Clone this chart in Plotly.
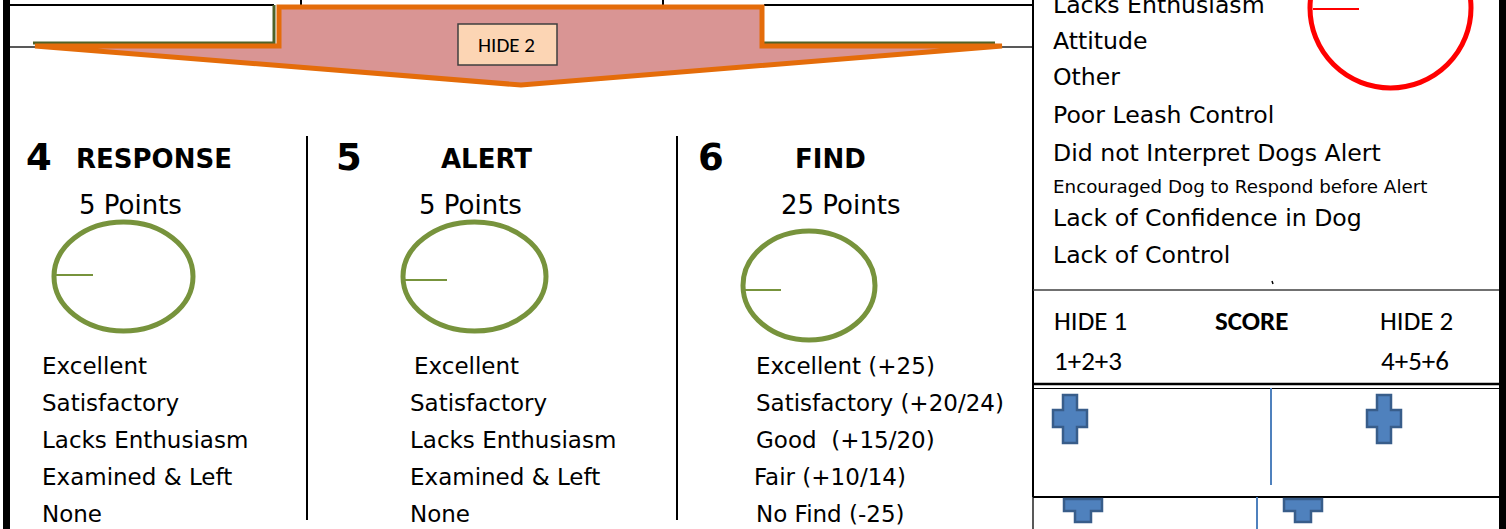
import plotly.graph_objects as go

# ---------------- data (text content of the form) ----------------
section_numbers = ["4", "5", "6"]
section_titles = ["RESPONSE", "ALERT", "FIND"]
section_points = ["5 Points", "5 Points", "25 Points"]
response_items = ["Excellent", "Satisfactory", "Lacks Enthusiasm", "Examined & Left", "None"]
alert_items = ["Excellent", "Satisfactory", "Lacks Enthusiasm", "Examined & Left", "None"]
find_items = ["Excellent (+25)", "Satisfactory (+20/24)", "Good  (+15/20)", "Fair (+10/14)", "No Find (-25)"]
fault_items = ["Lacks Enthusiasm", "Attitude", "Other", "Poor Leash Control",
               "Did not Interpret Dogs Alert", "Encouraged Dog to Respond before Alert",
               "Lack of Confidence in Dog", "Lack of Control"]
score_labels = ["HIDE 1", "SCORE", "HIDE 2"]
score_formulas = ["1+2+3", "4+5+6"]
banner_label = "HIDE 2"

# ---------------- styling ----------------
TAHOMA = "Tahoma, 'DejaVu Sans', Verdana, sans-serif"
CALIBRI = "Calibri, Carlito, 'Open Sans', sans-serif"
GREEN = "#77933c"
DKGREEN = "#4f6228"
ORANGE = "#e46c0a"
PINK = "#d99594"
BLUE = "#4f81bd"
DKBLUE = "#385d8a"

shapes = []
ann = []

def line(x0, y0, x1, y1, color="black", width=2):
    shapes.append(dict(type="line", x0=x0, y0=y0, x1=x1, y1=y1,
                       line=dict(color=color, width=width), layer="above"))

def rect(x0, y0, x1, y1, fill, color=None, width=0):
    shapes.append(dict(type="rect", x0=x0, y0=y0, x1=x1, y1=y1, fillcolor=fill,
                       line=dict(color=color or fill, width=width), layer="above"))

def path(d, fill=None, color="black", width=2):
    s = dict(type="path", path=d, line=dict(color=color, width=width), layer="above")
    if fill:
        s["fillcolor"] = fill
    shapes.append(s)

def ellipse(x0, y0, x1, y1, color, width):
    shapes.append(dict(type="circle", x0=x0, y0=y0, x1=x1, y1=y1,
                       line=dict(color=color, width=width), layer="above"))

def text(x, y, s, size, family=TAHOMA, bold=False, xanchor="left"):
    t = f"<b>{s}</b>" if bold else s
    ann.append(dict(x=x, y=y, text=t, showarrow=False, xanchor=xanchor, yanchor="middle",
                    font=dict(family=family, size=size, color="black"), borderpad=0))

# ---------- outer borders ----------
rect(3, 0, 10, 529, "black")
rect(1499, 0, 1506, 529, "black")

# top table remnants
line(10, 5, 274, 5, width=2)
line(764, 5, 1033, 5, width=2)
line(301, 0, 301, 6, width=2)
line(663, 0, 663, 6, width=2)
line(10, 47, 35, 47, color="#595959", width=2)
line(1002, 47, 1033, 47, color="#595959", width=2)

# green underline (under the arrow)
path("M 33,43 L 274,43 L 274,5", color=DKGREEN, width=3)
line(764, 43, 995, 43, color=DKGREEN, width=3)

# big arrow banner
path("M 35,46 L 279,46 L 279,7 L 762,7 L 762,46 L 1002,46 L 521,85 Z",
     fill=PINK, color=ORANGE, width=5)
rect(458, 24, 557, 65, "#fcd5b4", color="#3f3f3f", width=1.5)
text(506, 45, banner_label, 21, family=CALIBRI, xanchor="center")

# column separators
line(307, 136, 307, 520, width=2)
line(677, 136, 677, 520, width=2)

# ---------- sections ----------
num_x = [27, 337, 699]
title_x = [77, 442, 796]
pts_x = [80, 420, 782]
ell = [(54, 222, 193, 331), (403, 222, 546, 331), (743, 231, 875, 340)]
tick = [(55, 93, 275), (405, 447, 280), (745, 781, 290)]
item_x = [43, 411, 757]
item_dx = [[0, 0, 0, 0, 0], [4, 0, 0, 0, 0], [0, 0, 0, -2, 0]]
item_y = [366, 403, 440, 477, 514]
lists = [response_items, alert_items, find_items]

for i in range(3):
    text(num_x[i] - 2, 157, section_numbers[i], 37, bold=True)
    text(title_x[i] - 2, 159, section_titles[i], 26, bold=True)
    text(pts_x[i] - 2, 205, section_points[i], 26)
    x0, y0, x1, y1 = ell[i]
    ellipse(x0, y0, x1, y1, GREEN, 5)
    a, b, yy = tick[i]
    line(a, yy, b, yy, color=GREEN, width=2)
    for j, s in enumerate(lists[i]):
        text(item_x[i] + item_dx[i][j] - 2, item_y[j], s, 23)

# ---------- right panel ----------
line(1033, 0, 1033, 497, width=2)
line(1033, 497, 1033, 529, color="#595959", width=2)
fault_y = [5, 41, 77, 115, 153, 186, 218, 255]
for s, yy in zip(fault_items, fault_y):
    size = 18.3 if s.startswith("Encouraged") else 23.6
    text(1052, yy, s, size)
line(1272, 281, 1273, 284, width=1.5)

# red circle
ellipse(1310, -72, 1471, 88, "#ff0000", 5)
line(1313, 9, 1359, 9, color="#ff0000", width=2)

# score block
line(1033, 290, 1499, 290, color="#404040", width=1.5)
text(1053, 320, score_labels[0], 27, family=CALIBRI)
text(1252, 320, score_labels[1], 27, family=CALIBRI, bold=True, xanchor="center")
text(1379, 320, score_labels[2], 27, family=CALIBRI)
text(1053, 360, score_formulas[0], 27, family=CALIBRI)
text(1380, 360, score_formulas[1], 27, family=CALIBRI)
line(1033, 384, 1499, 384, width=2.5)
line(1033, 388.5, 1499, 388.5, width=1)
line(1271, 388, 1271, 485, color=BLUE, width=2)
line(1033, 497, 1499, 497, width=2)
line(1257, 497, 1257, 529, color=BLUE, width=2)

# plus icons
def cross(dx):
    return (f"M {1063+dx},395 H {1077+dx} V 410 H {1087+dx} V 427 H {1077+dx} V 443 "
            f"H {1063+dx} V 427 H {1053+dx} V 410 H {1063+dx} Z")
for dx in (0, 314):
    path(cross(dx), fill=BLUE, color=DKBLUE, width=2.5)

def half_cross(dx):
    return (f"M {1064+dx},499 H {1102+dx} V 511 H {1091+dx} V 522 H {1075+dx} V 511 "
            f"H {1064+dx} Z")
for dx in (0, 220):
    path(half_cross(dx), fill=BLUE, color=DKBLUE, width=2.5)

fig = go.Figure()
fig.update_layout(
    width=1506, height=529,
    margin=dict(l=0, r=0, t=0, b=0),
    paper_bgcolor="white", plot_bgcolor="white",
    xaxis=dict(range=[0, 1506], visible=False, fixedrange=True),
    yaxis=dict(range=[529, 0], visible=False, fixedrange=True),
    shapes=shapes, annotations=ann, showlegend=False,
)
fig.write_html(
    "out.html",
    config={"displayModeBar": False},
    post_script="document.body.style.margin='0';document.body.style.padding='0';"
                "document.body.style.overflow='hidden';",
)
